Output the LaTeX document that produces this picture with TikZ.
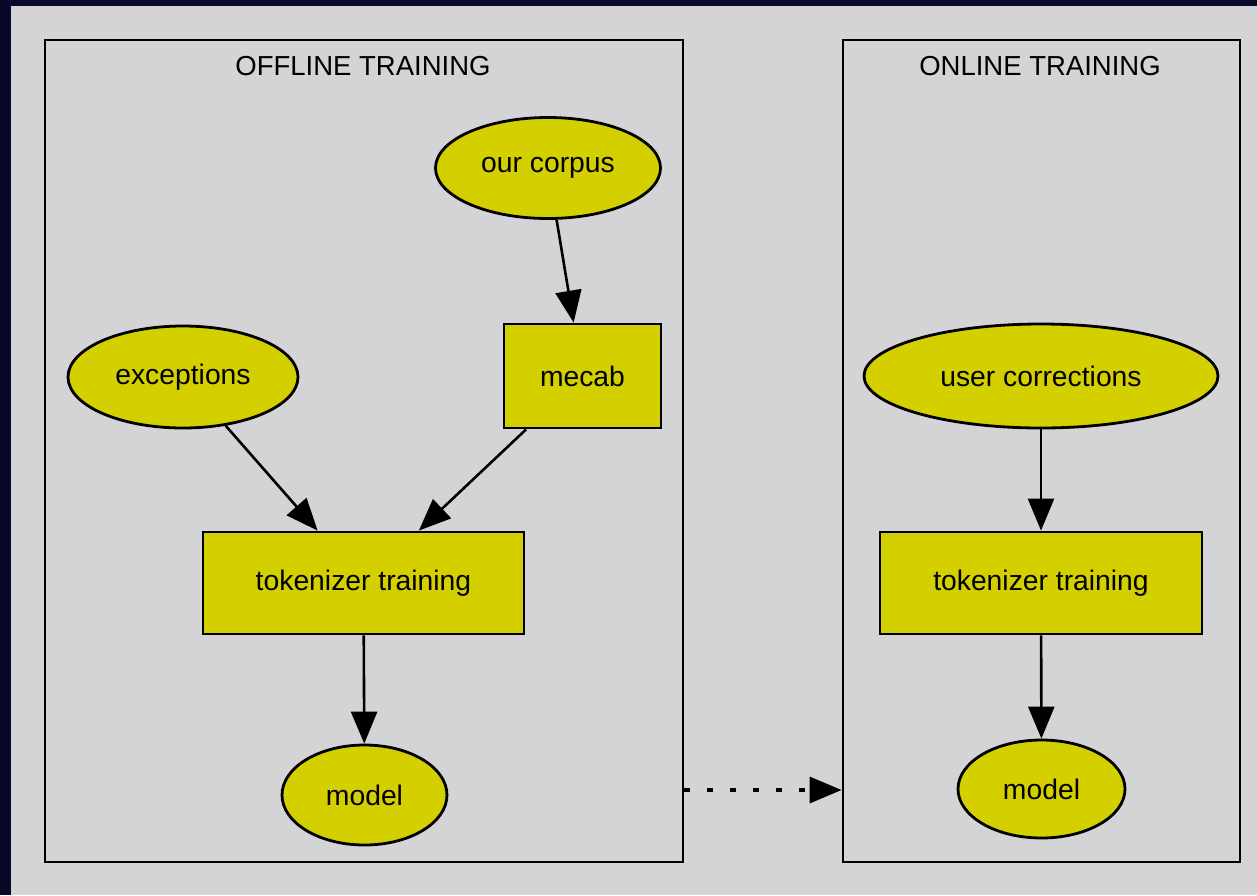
\documentclass[tikz,border=0pt]{standalone}
\usepackage{fontspec}
\setmainfont{Liberation Sans}
\usetikzlibrary{shapes.geometric,arrows.meta,calc}
\definecolor{panel}{RGB}{212,212,215}
\definecolor{frame}{RGB}{8,8,40}
\definecolor{nodefill}{RGB}{212,208,0}
\tikzset{
  base/.style={draw=black, line width=2.8pt, fill=nodefill, inner sep=0pt,
               font=\fontsize{28.3}{34}\selectfont, text=black},
  oval/.style={base, ellipse},
  stepbox/.style={base, rectangle},
  cluster/.style={draw=black, line width=2.8pt, rectangle, inner sep=0pt},
  clabel/.style={font=\fontsize{27.5}{33}\selectfont, text=black, inner sep=0pt},
  tip/.style={-{Triangle[length=32pt,width=26pt]}},
  flow/.style={line width=2.6pt, draw=black, tip},
}
\begin{document}
\begin{tikzpicture}[x=1pt,y=-1pt]
  % backdrop
  \fill[frame] (0,0) rectangle (1257,895);
  \fill[panel] (11,6) rectangle (1257,895);
  \useasboundingbox (0,0) rectangle (1257,895);

  % clusters
  \node[cluster, minimum width=638pt, minimum height=822pt] (offline) at (364,451) {};
  \node[cluster, minimum width=397pt, minimum height=822pt] (online) at (1041.5,451) {};
  \node[clabel] (offlab) at (363,66) {OFFLINE TRAINING};
  \node[clabel] (onlab) at (1040,66) {ONLINE TRAINING};

  % offline nodes
  \node[oval, minimum width=225pt, minimum height=101pt] (corpus) at (548,168) {our corpus};
  \node[stepbox, minimum width=157pt, minimum height=104pt] (mecab) at (582.5,376) {mecab};
  \node[oval, minimum width=230pt, minimum height=102pt] (exceptions) at (183,377) {exceptions};
  \node[stepbox, minimum width=321pt, minimum height=102pt] (tokL) at (363.5,583) {tokenizer training};
  \node[oval, minimum width=165pt, minimum height=100pt] (modelL) at (364.5,795) {model};

  % online nodes
  \node[oval, minimum width=354pt, minimum height=104pt] (usercorr) at (1041,376) {user corrections};
  \node[stepbox, minimum width=322pt, minimum height=102pt] (tokR) at (1041,583) {tokenizer training};
  \node[oval, minimum width=167pt, minimum height=98pt] (modelR) at (1041.5,789) {model};

  % edges
  \draw[flow] (corpus) -- (mecab);
  \draw[flow] (exceptions) -- (tokL);
  \draw[flow] (mecab) -- (tokL);
  \draw[flow] (tokL) -- (modelL);
  \draw[flow] (usercorr) -- (tokR);
  \draw[flow] (tokR) -- (modelR);

  % link between the two stages
  \coordinate (linkS) at (offline.east |- 0,790);
  \coordinate (linkE) at (online.west |- 0,790);
  \draw[line width=3.4pt, dash pattern=on 6pt off 17pt, tip] (linkS) -- (linkE);
\end{tikzpicture}
\end{document}
